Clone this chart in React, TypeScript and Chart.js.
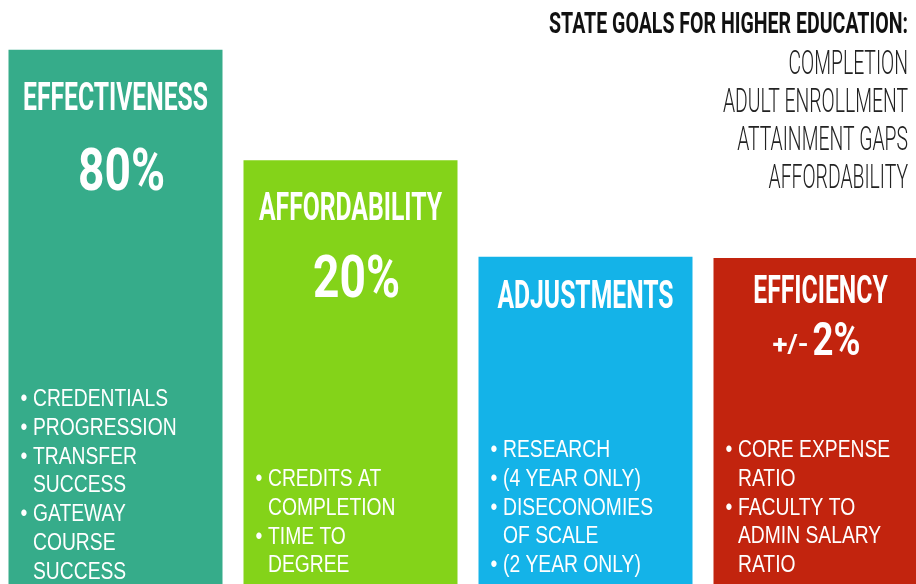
import React, { useEffect, useRef } from "react";
import { Chart, registerables } from "chart.js";

Chart.register(...registerables);

// ---- data ----
const categories = ["EFFECTIVENESS", "AFFORDABILITY", "ADJUSTMENTS", "EFFICIENCY"];
const barHeights = [91.7, 73.3, 57.2, 57.0];
const shareLabels = ["80%", "20%", "", "2%"];
const sharePrefixes = ["", "", "", "+/-"];
const bulletItems: string[][][] = [
  [["CREDENTIALS"], ["PROGRESSION"], ["TRANSFER", "SUCCESS"], ["GATEWAY", "COURSE", "SUCCESS"]],
  [["CREDITS AT", "COMPLETION"], ["TIME TO", "DEGREE"]],
  [["RESEARCH"], ["(4 YEAR ONLY)"], ["DISECONOMIES", "OF SCALE"], ["(2 YEAR ONLY)"]],
  [["CORE EXPENSE", "RATIO"], ["FACULTY TO", "ADMIN SALARY", "RATIO"]],
];
const headerTitle = "STATE GOALS FOR HIGHER EDUCATION:";
const goals = ["COMPLETION", "ADULT ENROLLMENT", "ATTAINMENT GAPS", "AFFORDABILITY"];

// ---- styles ----
const barColors = ["#36AC8A", "#84D319", "#14B3E8", "#C2240E"];
const CANVAS_W = 940;
const CANVAS_H = 600;
const OFFSET_X = -2;
const titleOffsets = [60, 60, 51, 45];
const shareOffsets = [140, 137, 0, 97];
const shareShiftX = [6, 6, 0, -4];
const bulletStartBaselines = [406, 486, 457, 457];
const LINE_STEP = 28.8;

const TITLE_FONT = "bold 39px Roboto";
const SHARE_FONT = "bold 60px Roboto";
const SHARE_SMALL_FONT = "bold 46px Roboto";
const PREFIX_FONT = "bold 26px Roboto";
const HEADER_FONT = "bold 29px Roboto";
const GOAL_FONT = "300 34px Roboto";
const BULLET_FONT = "23px 'Liberation Sans'";

function scaleFor(ctx: CanvasRenderingContext2D, font: string, ref: string, target: number) {
  ctx.save();
  ctx.font = font;
  const w = ctx.measureText(ref).width;
  ctx.restore();
  return target / w;
}

function drawScaled(
  ctx: CanvasRenderingContext2D,
  text: string,
  x: number,
  y: number,
  font: string,
  sx: number,
  align: "left" | "center" | "right",
  color: string
) {
  ctx.save();
  ctx.font = font;
  ctx.fillStyle = color;
  ctx.textBaseline = "alphabetic";
  ctx.textAlign = "left";
  const w = ctx.measureText(text).width * sx;
  const left = align === "center" ? x - w / 2 : align === "right" ? x - w : x;
  ctx.translate(left, y);
  ctx.scale(sx, 1);
  ctx.fillText(text, 0, 0);
  ctx.restore();
  return w;
}

const textPlugin = {
  id: "infographicText",
  afterDatasetsDraw(chart: any) {
    const ctx: CanvasRenderingContext2D = chart.ctx;
    const meta = chart.getDatasetMeta(0);
    const titleSx = scaleFor(ctx, TITLE_FONT, "EFFECTIVENESS", 185);
    const shareSx = scaleFor(ctx, SHARE_FONT, "80%", 87);
    const smallShareSx = scaleFor(ctx, SHARE_SMALL_FONT, "2%", 48);
    const prefixSx = scaleFor(ctx, PREFIX_FONT, "+/-", 36);
    const headerSx = scaleFor(ctx, HEADER_FONT, headerTitle, 359);
    const goalSx = scaleFor(ctx, GOAL_FONT, "ADULT ENROLLMENT", 185);
    const bulletSx = scaleFor(ctx, BULLET_FONT, "CREDENTIALS", 135);

    meta.data.forEach((bar: any, i: number) => {
      const cx = bar.x;
      const top = bar.y;
      const left = bar.x - bar.width / 2;
      drawScaled(ctx, categories[i], cx, top + titleOffsets[i], TITLE_FONT, titleSx, "center", "#ffffff");
      if (shareLabels[i]) {
        const sxc = cx + shareShiftX[i];
        if (sharePrefixes[i]) {
          const pw = 36;
          const gap = 4;
          const sw = 48;
          const start = sxc - (pw + gap + sw) / 2;
          drawScaled(ctx, sharePrefixes[i], start, top + shareOffsets[i] - 2, PREFIX_FONT, prefixSx, "left", "#ffffff");
          drawScaled(ctx, shareLabels[i], start + pw + gap, top + shareOffsets[i], SHARE_SMALL_FONT, smallShareSx, "left", "#ffffff");
        } else {
          drawScaled(ctx, shareLabels[i], sxc, top + shareOffsets[i], SHARE_FONT, shareSx, "center", "#ffffff");
        }
      }
      let y = bulletStartBaselines[i];
      bulletItems[i].forEach((item) => {
        item.forEach((line, j) => {
          if (j === 0) drawScaled(ctx, "•", left + 12, y, BULLET_FONT, 0.85, "left", "#ffffff");
          drawScaled(ctx, line, left + 24.5, y, BULLET_FONT, bulletSx, "left", "#ffffff");
          y += LINE_STEP;
        });
      });
    });

    const rightX = 908 - OFFSET_X;
    drawScaled(ctx, headerTitle, rightX, 33, HEADER_FONT, headerSx, "right", "#111111");
    goals.forEach((g, k) => {
      drawScaled(ctx, g, rightX, 74 + k * 38, GOAL_FONT, goalSx, "right", "#222222");
    });
  },
};

export default function App() {
  const ref = useRef<HTMLCanvasElement | null>(null);
  useEffect(() => {
    if (!ref.current) return;
    const chart = new Chart(ref.current, {
      type: "bar",
      data: {
        labels: categories,
        datasets: [
          {
            data: barHeights,
            backgroundColor: barColors,
            borderWidth: 0,
            barPercentage: 214 / 235,
            categoryPercentage: 1,
          },
        ],
      },
      options: {
        animation: false,
        responsive: false,
        devicePixelRatio: 1,
        layout: { padding: 0 },
        plugins: { legend: { display: false }, tooltip: { enabled: false } },
        scales: {
          x: { display: false },
          y: { display: false, min: 0, max: 100 },
        },
      },
      plugins: [textPlugin],
    });
    return () => chart.destroy();
  }, []);
  return (
    <div style={{ position: "fixed", left: OFFSET_X, top: 0, width: CANVAS_W, height: CANVAS_H, background: "#ffffff" }}>
      <canvas ref={ref} width={CANVAS_W} height={CANVAS_H} style={{ display: "block" }} />
    </div>
  );
}
